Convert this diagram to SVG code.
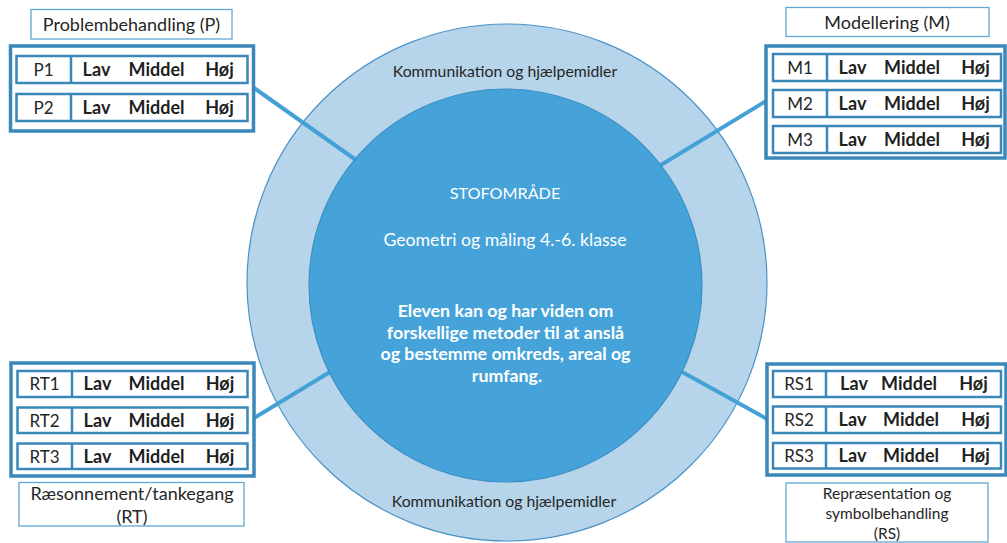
<svg xmlns="http://www.w3.org/2000/svg" width="1007" height="543" viewBox="0 0 1007 543">
  <style>
    .frame { fill: #ffffff; stroke: #3a87b9; stroke-width: 3.5; }
    .row { fill: #ffffff; stroke: #3a87b9; stroke-width: 2.5; }
    .div { stroke: #3a87b9; stroke-width: 2.5; }
    .caption { fill: #ffffff; stroke: #62a6d6; stroke-width: 1.3; }
    .code { font-family: Lato, "Liberation Sans", sans-serif; font-size: 17px; fill: #262626; text-anchor: middle; }
    .lvl { font-family: Lato, "Liberation Sans", sans-serif; font-size: 18px; font-weight: bold; fill: #1f1f1f; text-anchor: middle; }
    .cap { font-family: Lato, "Liberation Sans", sans-serif; font-size: 18px; fill: #262626; text-anchor: middle; }
    .capsm { font-family: Lato, "Liberation Sans", sans-serif; font-size: 15.5px; fill: #262626; text-anchor: middle; }
    .ring { font-family: Lato, "Liberation Sans", sans-serif; font-size: 15.8px; fill: #262626; text-anchor: middle; }
    .core { font-family: Lato, "Liberation Sans", sans-serif; fill: #ffffff; text-anchor: middle; }
    .link { stroke: #44a1d8; stroke-width: 4; stroke-linecap: butt; fill: none; }
  </style>

  <!-- outer ring: communication and tools -->
  <g id="ring">
    <ellipse cx="507" cy="282.5" rx="260" ry="258.5" fill="#b6d4ea" stroke="#4a93c6" stroke-width="1.2"/>
    <text class="ring" x="505" y="77">Kommunikation og hjælpemidler</text>
    <text class="ring" x="504" y="507">Kommunikation og hjælpemidler</text>
  </g>

  <!-- connectors from the competence panels to the core -->
  <g id="connectors">
    <line class="link" x1="254" y1="88" x2="356" y2="160"/>
    <line class="link" x1="766" y1="101" x2="656" y2="168"/>
    <line class="link" x1="254" y1="418" x2="330" y2="372"/>
    <line class="link" x1="767" y1="419" x2="675" y2="368"/>
  </g>

  <!-- core: subject area -->
  <g id="core">
    <circle cx="505.5" cy="285.5" r="196.5" fill="#45a3da" stroke="#3c8fc3" stroke-width="1.2"/>
    <text class="core" x="505" y="199" font-size="16.2">STOFOMRÅDE</text>
    <text class="core" x="505" y="246" font-size="17.7">Geometri og måling 4.-6. klasse</text>
    <g font-weight="bold" font-size="17.8">
      <text class="core" x="505.5" y="317">Eleven kan og har viden om</text>
      <text class="core" x="505.5" y="338.5">forskellige metoder til at anslå</text>
      <text class="core" x="505.5" y="360">og bestemme omkreds, areal og</text>
      <text class="core" x="507" y="381.5">rumfang.</text>
    </g>
  </g>

  <!-- Problembehandling -->
  <g id="panel-P">
    <rect class="caption" x="31" y="9.5" width="201" height="29.5"/>
    <text class="cap" x="131.5" y="31">Problembehandling (P)</text>
    <rect class="frame" x="10.5" y="46" width="243" height="85"/>
    <rect class="row" x="16.5" y="56" width="231" height="27"/>
    <line class="div" x1="71" y1="56" x2="71" y2="83"/>
    <text class="code" x="43.5" y="76">P1</text>
    <text class="lvl" x="96.5" y="76">Lav</text>
    <text class="lvl" x="156.5" y="76">Middel</text>
    <text class="lvl" x="219.5" y="76">Høj</text>
    <rect class="row" x="16.5" y="94" width="231" height="27"/>
    <line class="div" x1="71" y1="94" x2="71" y2="121"/>
    <text class="code" x="43.5" y="114">P2</text>
    <text class="lvl" x="96.5" y="114">Lav</text>
    <text class="lvl" x="156.5" y="114">Middel</text>
    <text class="lvl" x="219.5" y="114">Høj</text>
  </g>

  <!-- Modellering -->
  <g id="panel-M">
    <rect class="caption" x="786" y="7.5" width="203" height="29"/>
    <text class="cap" x="887" y="28.5">Modellering (M)</text>
    <rect class="frame" x="766" y="46" width="239" height="112"/>
    <rect class="row" x="773" y="54" width="228" height="27"/>
    <line class="div" x1="827" y1="54" x2="827" y2="81"/>
    <text class="code" x="800" y="74">M1</text>
    <text class="lvl" x="852.5" y="74">Lav</text>
    <text class="lvl" x="912" y="74">Middel</text>
    <text class="lvl" x="975.5" y="74">Høj</text>
    <rect class="row" x="773" y="90" width="228" height="27"/>
    <line class="div" x1="827" y1="90" x2="827" y2="117"/>
    <text class="code" x="800" y="110">M2</text>
    <text class="lvl" x="852.5" y="110">Lav</text>
    <text class="lvl" x="912" y="110">Middel</text>
    <text class="lvl" x="975.5" y="110">Høj</text>
    <rect class="row" x="773" y="126" width="228" height="27"/>
    <line class="div" x1="827" y1="126" x2="827" y2="153"/>
    <text class="code" x="800" y="146">M3</text>
    <text class="lvl" x="852.5" y="146">Lav</text>
    <text class="lvl" x="912" y="146">Middel</text>
    <text class="lvl" x="975.5" y="146">Høj</text>
  </g>

  <!-- Ræsonnement/tankegang -->
  <g id="panel-RT">
    <rect class="frame" x="11" y="363" width="243" height="113"/>
    <rect class="row" x="17.5" y="371" width="230" height="26"/>
    <line class="div" x1="72" y1="371" x2="72" y2="397"/>
    <text class="code" x="44.5" y="390">RT1</text>
    <text class="lvl" x="97.5" y="390">Lav</text>
    <text class="lvl" x="156.5" y="390">Middel</text>
    <text class="lvl" x="220" y="390">Høj</text>
    <rect class="row" x="17.5" y="407.5" width="230" height="25.5"/>
    <line class="div" x1="72" y1="407.5" x2="72" y2="433"/>
    <text class="code" x="44.5" y="426.5">RT2</text>
    <text class="lvl" x="97.5" y="426.5">Lav</text>
    <text class="lvl" x="156.5" y="426.5">Middel</text>
    <text class="lvl" x="220" y="426.5">Høj</text>
    <rect class="row" x="17.5" y="443.5" width="230" height="25.5"/>
    <line class="div" x1="72" y1="443.5" x2="72" y2="469"/>
    <text class="code" x="44.5" y="462.5">RT3</text>
    <text class="lvl" x="97.5" y="462.5">Lav</text>
    <text class="lvl" x="156.5" y="462.5">Middel</text>
    <text class="lvl" x="220" y="462.5">Høj</text>
    <rect class="caption" x="19" y="482.5" width="225" height="43.5"/>
    <text class="cap" x="132" y="499.5">Ræsonnement/tankegang</text>
    <text class="cap" x="132" y="522.5">(RT)</text>
  </g>

  <!-- Repræsentation og symbolbehandling -->
  <g id="panel-RS">
    <rect class="frame" x="767" y="364" width="239" height="111"/>
    <rect class="row" x="773" y="371" width="228" height="26"/>
    <line class="div" x1="826" y1="371" x2="826" y2="397"/>
    <text class="code" x="799" y="390">RS1</text>
    <text class="lvl" x="854" y="390">Lav</text>
    <text class="lvl" x="909" y="390">Middel</text>
    <text class="lvl" x="973.5" y="390">Høj</text>
    <rect class="row" x="773" y="406.5" width="228" height="26.5"/>
    <line class="div" x1="826" y1="406.5" x2="826" y2="433"/>
    <text class="code" x="799" y="426">RS2</text>
    <text class="lvl" x="852.5" y="426">Lav</text>
    <text class="lvl" x="911" y="426">Middel</text>
    <text class="lvl" x="975.5" y="426">Høj</text>
    <rect class="row" x="773" y="443" width="228" height="25.5"/>
    <line class="div" x1="826" y1="443" x2="826" y2="468.5"/>
    <text class="code" x="799" y="462">RS3</text>
    <text class="lvl" x="852.5" y="462">Lav</text>
    <text class="lvl" x="911" y="462">Middel</text>
    <text class="lvl" x="975.5" y="462">Høj</text>
    <rect class="caption" x="786" y="483" width="202" height="59"/>
    <text class="capsm" x="887" y="498.5">Repræsentation og</text>
    <text class="capsm" x="887" y="518.5">symbolbehandling</text>
    <text class="capsm" x="887" y="538.5">(RS)</text>
  </g>
</svg>
